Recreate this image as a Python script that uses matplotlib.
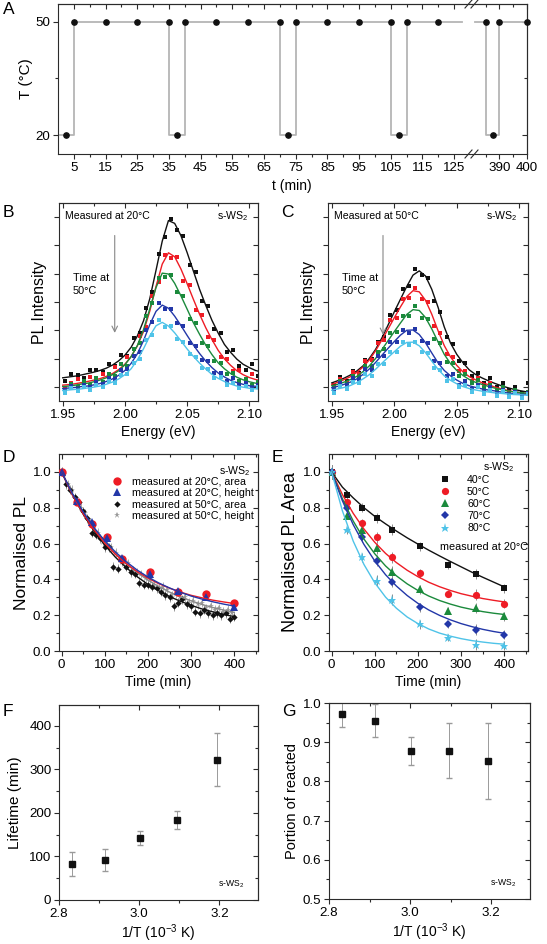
import matplotlib
matplotlib.use('Agg')
import matplotlib.pyplot as plt
from matplotlib.lines import Line2D
from matplotlib.ticker import FormatStrFormatter

plt.rcParams['font.family'] = ['Liberation Sans', 'DejaVu Sans']
plt.rcParams['mathtext.fontset'] = 'custom'
plt.rcParams['mathtext.rm'] = 'Liberation Sans'
plt.rcParams['mathtext.it'] = 'Liberation Sans:italic'
plt.rcParams['axes.linewidth'] = 0.8

# ---------------- data ----------------
# A: temperature programme
prof_t1 = [0.5, 5, 5, 35, 35, 40, 40, 70, 70, 75, 75, 105, 105, 110, 110, 127.5]
prof_T1 = [20, 20, 50, 50, 20, 20, 50, 50, 20, 20, 50, 50, 20, 20, 50, 50]
prof_t2 = [381, 385, 385, 390, 390, 400]
prof_T2 = [50, 50, 20, 20, 50, 50]
meas_t = [2.5, 5, 15, 25, 35, 37.5, 40, 50, 60, 70, 72.5, 75, 85, 95, 105, 107.5,
          110, 120, 385, 387.5, 390, 400]
meas_T = [20, 50, 50, 50, 50, 20, 50, 50, 50, 50, 20, 50, 50, 50, 50, 20,
          50, 50, 50, 20, 50, 50]
a_ticks1 = [5, 15, 25, 35, 45, 55, 65, 75, 85, 95, 105, 115, 125]
a_ticks2 = [390, 400]

# B, C: PL spectra
E_fit = [1.950, 1.955, 1.960, 1.965, 1.970, 1.975, 1.980, 1.985, 1.990, 1.995, 2.000,
         2.005, 2.010, 2.015, 2.020, 2.025, 2.030, 2.035, 2.040, 2.045, 2.050, 2.055,
         2.060, 2.065, 2.070, 2.075, 2.080, 2.085, 2.090, 2.095, 2.100, 2.105, 2.110]
E_pts = [1.952, 1.957, 1.962, 1.967, 1.972, 1.977, 1.982, 1.987, 1.992, 1.997, 2.002,
         2.007, 2.012, 2.017, 2.022, 2.027, 2.032, 2.037, 2.042, 2.047, 2.052, 2.057,
         2.062, 2.067, 2.072, 2.077, 2.082, 2.087, 2.092, 2.097, 2.102, 2.107]

b_fit_k = [0.82, 0.85, 0.88, 0.92, 0.97, 1.02, 1.08, 1.16, 1.27, 1.42, 1.62,
           1.90, 2.30, 2.84, 3.62, 4.62, 5.65, 6.38, 6.28, 5.85, 5.25, 4.60,
           3.95, 3.38, 2.85, 2.40, 2.00, 1.72, 1.48, 1.30, 1.18, 1.08, 1.02]
b_fit_r = [0.56, 0.58, 0.61, 0.65, 0.69, 0.74, 0.79, 0.87, 0.97, 1.11, 1.30,
           1.57, 1.95, 2.46, 3.18, 4.05, 4.84, 5.24, 5.10, 4.67, 4.15, 3.60,
           3.07, 2.59, 2.17, 1.79, 1.49, 1.26, 1.07, 0.93, 0.83, 0.76, 0.71]
b_fit_g = [0.51, 0.53, 0.56, 0.60, 0.63, 0.68, 0.74, 0.82, 0.93, 1.07, 1.28,
           1.57, 1.96, 2.53, 3.26, 4.01, 4.52, 4.49, 4.16, 3.72, 3.25, 2.77,
           2.36, 1.97, 1.64, 1.35, 1.14, 0.97, 0.84, 0.75, 0.68, 0.63, 0.60]
b_fit_b = [0.44, 0.46, 0.48, 0.51, 0.53, 0.57, 0.62, 0.69, 0.78, 0.91, 1.08,
           1.33, 1.67, 2.14, 2.70, 3.17, 3.39, 3.28, 3.00, 2.67, 2.32, 1.98,
           1.68, 1.41, 1.18, 0.99, 0.85, 0.73, 0.65, 0.59, 0.54, 0.52, 0.50]
b_fit_c = [0.37, 0.39, 0.41, 0.43, 0.46, 0.49, 0.53, 0.59, 0.67, 0.78, 0.93,
           1.14, 1.45, 1.85, 2.30, 2.66, 2.78, 2.65, 2.41, 2.13, 1.84, 1.58,
           1.34, 1.13, 0.94, 0.80, 0.69, 0.60, 0.53, 0.49, 0.45, 0.43, 0.41]
b_pts_k = [0.72, 0.95, 0.92, 0.83, 1.08, 1.10, 1.02, 1.31, 1.22, 1.63, 1.60, 2.21, 2.40, 3.30, 3.85, 5.20,
           5.80, 6.45, 6.05, 5.85, 4.80, 4.55, 3.55, 3.35, 2.55, 2.40, 1.75, 1.80, 1.25, 1.10, 1.30, 0.90]
b_pts_r = [0.45, 0.62, 0.78, 0.55, 0.85, 0.70, 0.95, 0.80, 1.20, 1.10, 1.55, 1.60, 2.30, 2.60, 3.70, 4.20,
           5.15, 5.05, 5.10, 4.25, 4.10, 3.20, 3.05, 2.25, 2.15, 1.55, 1.50, 1.05, 1.10, 0.75, 0.95, 0.60]
b_pts_g = [0.40, 0.60, 0.48, 0.70, 0.55, 0.80, 0.68, 0.95, 0.90, 1.30, 1.25, 1.85, 2.05, 3.00, 3.45, 4.35,
           4.40, 4.45, 3.85, 3.70, 2.90, 2.75, 2.05, 1.95, 1.40, 1.35, 0.95, 1.00, 0.70, 0.78, 0.55, 0.68]
b_pts_b = [0.35, 0.52, 0.40, 0.58, 0.48, 0.66, 0.60, 0.80, 0.78, 1.08, 1.12, 1.60, 1.75, 2.50, 2.80, 3.45,
           3.25, 3.25, 2.75, 2.65, 2.05, 1.95, 1.45, 1.40, 1.00, 0.98, 0.72, 0.82, 0.55, 0.62, 0.45, 0.58]
b_pts_c = [0.30, 0.45, 0.35, 0.50, 0.40, 0.58, 0.50, 0.70, 0.65, 0.92, 0.95, 1.35, 1.50, 2.15, 2.35, 2.85,
           2.60, 2.65, 2.20, 2.10, 1.65, 1.55, 1.15, 1.12, 0.80, 0.85, 0.58, 0.65, 0.45, 0.52, 0.38, 0.48]

c_fit_k = [0.64, 0.72, 0.81, 0.92, 1.06, 1.24, 1.50, 1.82, 2.22, 2.68, 3.15,
           3.60, 4.05, 4.45, 4.60, 4.42, 3.95, 3.32, 2.62, 2.05, 1.65, 1.35,
           1.10, 0.94, 0.82, 0.72, 0.63, 0.55, 0.48, 0.42, 0.37, 0.33, 0.30]
c_fit_r = [0.59, 0.66, 0.76, 0.86, 1.01, 1.20, 1.45, 1.77, 2.15, 2.54, 2.94,
           3.33, 3.69, 3.90, 3.86, 3.56, 3.07, 2.49, 1.96, 1.56, 1.26, 1.03,
           0.86, 0.75, 0.65, 0.58, 0.50, 0.44, 0.38, 0.33, 0.30, 0.27, 0.25]
c_fit_g = [0.54, 0.59, 0.67, 0.76, 0.87, 1.04, 1.24, 1.50, 1.81, 2.13, 2.45,
           2.76, 3.06, 3.23, 3.20, 2.95, 2.55, 2.09, 1.65, 1.32, 1.08, 0.90,
           0.76, 0.66, 0.59, 0.52, 0.46, 0.41, 0.36, 0.33, 0.30, 0.28, 0.26]
c_fit_b = [0.47, 0.52, 0.59, 0.67, 0.78, 0.94, 1.13, 1.36, 1.61, 1.86, 2.10,
           2.33, 2.50, 2.51, 2.35, 2.06, 1.70, 1.35, 1.08, 0.89, 0.74, 0.62,
           0.54, 0.48, 0.43, 0.39, 0.36, 0.32, 0.29, 0.26, 0.24, 0.23, 0.22]
c_fit_c = [0.38, 0.43, 0.48, 0.55, 0.65, 0.78, 0.93, 1.12, 1.33, 1.54, 1.74,
           1.94, 2.07, 2.08, 1.95, 1.71, 1.41, 1.12, 0.89, 0.73, 0.61, 0.51,
           0.44, 0.39, 0.35, 0.32, 0.29, 0.27, 0.25, 0.23, 0.22, 0.21, 0.20]
c_pts_k = [0.55, 0.85, 0.70, 1.05, 1.00, 1.45, 1.50, 2.10, 2.25, 3.05, 3.20, 3.95, 4.05, 4.65, 4.45, 4.35,
           3.55, 3.15, 2.25, 2.00, 1.40, 1.35, 0.90, 0.98, 0.65, 0.80, 0.50, 0.62, 0.38, 0.50, 0.28, 0.63]
c_pts_r = [0.50, 0.78, 0.65, 1.02, 0.95, 1.42, 1.45, 2.05, 2.15, 2.85, 2.95, 3.60, 3.65, 4.00, 3.60, 3.50,
           2.65, 2.40, 1.65, 1.55, 1.05, 1.05, 0.70, 0.80, 0.50, 0.62, 0.40, 0.50, 0.28, 0.40, 0.20, 0.32]
c_pts_g = [0.45, 0.70, 0.60, 0.90, 0.85, 1.25, 1.25, 1.75, 1.85, 2.40, 2.45, 3.00, 3.00, 3.35, 2.95, 2.90,
           2.20, 2.05, 1.38, 1.35, 0.88, 0.95, 0.62, 0.75, 0.45, 0.58, 0.35, 0.48, 0.25, 0.40, 0.20, 0.33]
c_pts_b = [0.40, 0.62, 0.52, 0.80, 0.75, 1.12, 1.10, 1.58, 1.60, 2.08, 2.10, 2.52, 2.42, 2.55, 2.12, 2.05,
           1.42, 1.35, 0.88, 0.95, 0.58, 0.70, 0.42, 0.58, 0.32, 0.48, 0.26, 0.40, 0.18, 0.32, 0.15, 0.28]
c_pts_c = [0.30, 0.52, 0.42, 0.68, 0.62, 0.95, 0.90, 1.30, 1.32, 1.75, 1.72, 2.10, 1.98, 2.10, 1.72, 1.68,
           1.15, 1.10, 0.72, 0.78, 0.48, 0.58, 0.32, 0.48, 0.25, 0.40, 0.18, 0.35, 0.14, 0.30, 0.12, 0.26]

# D: normalised PL vs time
t_20 = [0, 35, 70, 105, 140, 205, 270, 335, 400]
d_area20 = [1.0, 0.83, 0.71, 0.635, 0.515, 0.44, 0.33, 0.32, 0.27]
d_height20 = [1.0, 0.84, 0.72, 0.63, 0.52, 0.43, 0.335, 0.30, 0.245]
t_50a = [0, 10, 20, 30, 40, 50, 60, 70, 80, 90, 100, 110, 120, 130, 140, 150, 160, 170, 180, 190,
         200, 210, 220, 230, 240, 250, 260, 270, 280, 290, 300, 310, 320, 330, 340, 350, 360, 370,
         380, 390, 400]
d_area50 = [1.0, 0.93, 0.90, 0.86, 0.83, 0.78, 0.74, 0.66, 0.65, 0.63, 0.58, 0.58, 0.47, 0.46,
            0.50, 0.47, 0.44, 0.43, 0.38, 0.37, 0.37, 0.36, 0.35, 0.33, 0.31, 0.30, 0.25, 0.27,
            0.29, 0.26, 0.25, 0.22, 0.21, 0.23, 0.21, 0.20, 0.21, 0.20, 0.21, 0.18, 0.19]
t_50h = [0, 5, 15, 25, 35, 45, 55, 65, 75, 85, 95, 105, 115, 125, 135, 145, 155, 165, 175, 185,
         195, 205, 215, 225, 235, 245, 255, 265, 275, 285, 295, 305, 315, 325, 335, 345, 355, 365,
         375, 385, 395]
d_height50 = [1.0, 0.99, 0.93, 0.90, 0.84, 0.80, 0.77, 0.72, 0.70, 0.66, 0.61, 0.60, 0.58, 0.55,
              0.51, 0.50, 0.49, 0.45, 0.44, 0.43, 0.41, 0.40, 0.37, 0.35, 0.36, 0.34, 0.31, 0.32,
              0.30, 0.30, 0.27, 0.28, 0.26, 0.27, 0.24, 0.25, 0.23, 0.24, 0.22, 0.23, 0.21]
err50 = 0.025
t_fit = [0, 25, 50, 75, 100, 125, 150, 175, 200, 225, 250, 275, 300, 325, 350, 375, 400]
fit_area20 = [1.0, 0.872, 0.766, 0.677, 0.602, 0.539, 0.487, 0.443, 0.407, 0.376, 0.351, 0.329,
              0.311, 0.297, 0.284, 0.274, 0.265]
fit_height20 = [1.0, 0.879, 0.777, 0.689, 0.615, 0.552, 0.498, 0.452, 0.413, 0.380, 0.352, 0.328,
                0.307, 0.290, 0.275, 0.262, 0.251]
fit_area50 = [1.0, 0.872, 0.764, 0.671, 0.591, 0.523, 0.465, 0.415, 0.372, 0.336, 0.304, 0.278,
              0.255, 0.235, 0.219, 0.204, 0.192]
fit_height50 = [1.0, 0.879, 0.775, 0.686, 0.609, 0.543, 0.486, 0.438, 0.396, 0.360, 0.329, 0.303,
                0.280, 0.260, 0.243, 0.229, 0.216]
d_labels = ['measured at 20°C, area', 'measured at 20°C, height',
            'measured at 50°C, area', 'measured at 50°C, height']

# E: PL area at several temperatures
temps = ['40°C', '50°C', '60°C', '70°C', '80°C']
e_40 = [1.0, 0.87, 0.80, 0.742, 0.678, 0.584, 0.48, 0.43, 0.35]
e_50 = [1.0, 0.83, 0.714, 0.635, 0.523, 0.433, 0.32, 0.315, 0.265]
e_60 = [1.0, 0.755, 0.678, 0.573, 0.443, 0.345, 0.225, 0.24, 0.195]
e_70 = [1.0, 0.80, 0.635, 0.505, 0.388, 0.243, 0.148, 0.12, 0.09]
e_80 = [1.0, 0.673, 0.523, 0.393, 0.286, 0.15, 0.075, 0.035, 0.03]
e_err = [0.04, 0.02, 0.025, 0.03, 0.03, 0.025, 0.02, 0.03, 0.025]
fit_40 = [1.0, 0.915, 0.855, 0.80, 0.752, 0.71, 0.67, 0.632, 0.597, 0.563, 0.531, 0.50, 0.47,
          0.44, 0.412, 0.385, 0.358]
fit_50 = [1.0, 0.874, 0.769, 0.681, 0.607, 0.545, 0.494, 0.451, 0.415, 0.384, 0.359, 0.338,
          0.320, 0.306, 0.293, 0.283, 0.274]
fit_60 = [1.0, 0.850, 0.726, 0.625, 0.543, 0.475, 0.420, 0.375, 0.338, 0.307, 0.282, 0.262,
          0.245, 0.232, 0.220, 0.211, 0.204]
fit_70 = [1.0, 0.839, 0.706, 0.595, 0.503, 0.426, 0.363, 0.310, 0.266, 0.229, 0.199, 0.174,
          0.153, 0.136, 0.121, 0.109, 0.099]
fit_80 = [1.0, 0.783, 0.614, 0.483, 0.381, 0.301, 0.239, 0.190, 0.153, 0.123, 0.100, 0.083,
          0.069, 0.058, 0.050, 0.043, 0.038]

# F, G: Arrhenius-type summary
invT = [2.832, 2.914, 3.002, 3.095, 3.193]
lifetime = [82, 92, 142, 184, 322]
lifetime_err = [28, 26, 16, 20, 61]
portion = [0.972, 0.955, 0.878, 0.878, 0.851]
portion_err = [0.033, 0.043, 0.035, 0.07, 0.097]

# ---------------- styling ----------------
RED, GREEN, BLUE, CYAN = '#ee1c25', '#1b8a3c', '#2337a8', '#4fc3e8'
GREY = '#9a9a9a'
SPINE = '#2b2b2b'
TICK = 9.6
XLAB = 10

W, H = 547, 944
fig = plt.figure(figsize=(W / 100, H / 100), dpi=100)


def box(l, t, r, b):
    return fig.add_axes([l / W, 1 - b / H, (r - l) / W, (b - t) / H])


def frame(ax, xt, xm, yt, ym, xlim, ylim, ylabels=True):
    ax.set_xticks(xt)
    ax.set_xticks(xm, minor=True)
    ax.set_yticks(yt)
    ax.set_yticks(ym, minor=True)
    ax.set_xlim(*xlim)
    ax.set_ylim(*ylim)
    ax.tick_params(which='both', direction='out', width=0.8, color=SPINE,
                   labelsize=TICK, pad=2, labelleft=ylabels)
    ax.tick_params(which='major', length=3.5)
    ax.tick_params(which='minor', length=2)
    for s in ax.spines.values():
        s.set_color(SPINE)
    top = ax.secondary_xaxis('top')
    top.set_xticks(xt)
    top.set_xticks(xm, minor=True)
    top.tick_params(which='both', direction='in', labeltop=False, width=0.8, color=SPINE)
    top.tick_params(which='major', length=3.5)
    top.tick_params(which='minor', length=2)
    right = ax.secondary_yaxis('right')
    right.set_yticks(yt)
    right.set_yticks(ym, minor=True)
    right.tick_params(which='both', direction='in', labelright=False, width=0.8, color=SPINE)
    right.tick_params(which='major', length=3.5)
    right.tick_params(which='minor', length=2)
    for sec in (top, right):
        for s in sec.spines.values():
            s.set_color(SPINE)


def letter(x, y, s):
    fig.text(x / W, 1 - y / H, s, fontsize=12.5, ha='left', va='center')


# ---------------- A ----------------
axA1 = box(58, 4, 470, 154)
axA2 = box(470, 4, 527, 154)
for ax, pt, pT, xlim, maj, mnr in [
        (axA1, prof_t1, prof_T1, (0, 130), a_ticks1,
         [10, 20, 30, 40, 50, 60, 70, 80, 90, 100, 110, 120]),
        (axA2, prof_t2, prof_T2, (379.3, 400), a_ticks2, [385, 395])]:
    ax.plot(pt, pT, color='#b5b5b5', lw=1.3, zorder=1)
    ax.plot(meas_t, meas_T, 'o', color='#111111', ms=3.8, zorder=3, clip_on=False)
    ax.set_xlim(*xlim)
    ax.set_ylim(15, 54.7)
    ax.set_xticks(maj)
    ax.set_xticks(mnr, minor=True)
    ax.set_yticks([20, 50])
    ax.set_yticks([35], minor=True)
    ax.tick_params(which='both', direction='out', width=0.8, color=SPINE,
                   labelsize=TICK, pad=2)
    ax.tick_params(which='major', length=3.5)
    ax.tick_params(which='minor', length=2)
    for s in ax.spines.values():
        s.set_color(SPINE)
    top = ax.secondary_xaxis('top')
    top.set_xticks(maj)
    top.set_xticks(mnr, minor=True)
    top.tick_params(which='both', direction='in', labeltop=False, width=0.8, color=SPINE)
    top.tick_params(which='major', length=3.5)
    top.tick_params(which='minor', length=2)
    for s in top.spines.values():
        s.set_color(SPINE)
axA1.spines['right'].set_visible(False)
axA2.spines['left'].set_visible(False)
axA2.tick_params(axis='y', which='both', left=False, labelleft=False)
rA = axA2.secondary_yaxis('right')
rA.set_yticks([20, 50])
rA.set_yticks([35], minor=True)
rA.tick_params(which='both', direction='in', labelright=False, width=0.8, color=SPINE)
rA.tick_params(which='major', length=3.5)
rA.tick_params(which='minor', length=2)
rA.spines['right'].set_color(SPINE)
axA1.set_ylabel('T (°C)', fontsize=11, labelpad=2)
fig.text(292 / W, 1 - 186 / H, 't (min)', fontsize=XLAB, ha='center', va='center')
for yb in (4, 154):
    for xb in (465, 471):
        fig.add_artist(Line2D([xb / W, (xb + 7) / W], [1 - (yb + 4) / H, 1 - (yb - 4) / H],
                              color=SPINE, lw=0.8))
letter(3, 10, 'A')

# ---------------- B, C ----------------
def spectra(ax, fits, pts, title):
    cols = ['#111111', RED, GREEN, BLUE, CYAN]
    for f, p, c in zip(fits, pts, cols):
        ax.plot(E_pts, p, 's', color=c, ms=2.2, mew=0)
        ax.plot(E_fit, f, '-', color=c, lw=1.0)
    frame(ax, [1.95, 2.00, 2.05, 2.10], [1.975, 2.025, 2.075],
          [0.5, 1.5, 2.5, 3.5, 4.5, 5.5, 6.5], [], (1.947, 2.107), (0, 7), ylabels=False)
    ax.xaxis.set_major_formatter(FormatStrFormatter('%.2f'))
    ax.set_xlabel('Energy (eV)', fontsize=XLAB, labelpad=3)
    ax.set_ylabel('PL Intensity', fontsize=11.5, labelpad=5)
    ax.text(0.03, 0.935, title, transform=ax.transAxes, fontsize=7.6, va='center')
    ax.text(0.95, 0.935, 's-WS$_2$', transform=ax.transAxes, fontsize=7.6, va='center', ha='right')
    ax.text(0.07, 0.59, 'Time at\n50°C', transform=ax.transAxes, fontsize=7.8, va='center',
            linespacing=1.35)


axB = box(59, 203, 258, 401)
spectra(axB, [b_fit_k, b_fit_r, b_fit_g, b_fit_b, b_fit_c],
        [b_pts_k, b_pts_r, b_pts_g, b_pts_b, b_pts_c], 'Measured at 20°C')
axB.annotate('', xy=(0.28, 0.33), xytext=(0.28, 0.85), xycoords='axes fraction',
             arrowprops=dict(arrowstyle='->', color='#888888', lw=0.8))
letter(3, 212, 'B')

axC = box(328, 203, 528, 401)
spectra(axC, [c_fit_k, c_fit_r, c_fit_g, c_fit_b, c_fit_c],
        [c_pts_k, c_pts_r, c_pts_g, c_pts_b, c_pts_c], 'Measured at 50°C')
axC.annotate('', xy=(0.275, 0.32), xytext=(0.275, 0.85), xycoords='axes fraction',
             arrowprops=dict(arrowstyle='->', color='#888888', lw=0.8))
letter(281, 212, 'C')

# ---------------- D ----------------
axD = box(59, 454, 258, 651)
axD.errorbar(t_50h, d_height50, yerr=err50, fmt='*', color=GREY, ms=5, mew=0,
             ecolor='#b0b0b0', elinewidth=0.7, capsize=1.5, zorder=2)
axD.errorbar(t_50a, d_area50, yerr=err50, fmt='D', color='#111111', ms=3.2, mew=0,
             ecolor='#9a9a9a', elinewidth=0.7, capsize=1.5, zorder=3)
axD.plot(t_fit, fit_height50, color='#8a8a8a', lw=1.0, zorder=4)
axD.plot(t_fit, fit_area50, color='#111111', lw=1.0, zorder=4)
axD.plot(t_20, d_area20, 'o', color=RED, ms=6, mew=0, zorder=5)
axD.plot(t_20, d_height20, '^', color=BLUE, ms=6, mew=0, zorder=5)
axD.plot(t_fit, fit_area20, color=RED, lw=1.0, zorder=6)
axD.plot(t_fit, fit_height20, color=BLUE, lw=1.0, zorder=6)
frame(axD, [0, 100, 200, 300, 400], [50, 150, 250, 350, 450],
      [0.0, 0.2, 0.4, 0.6, 0.8, 1.0], [0.1, 0.3, 0.5, 0.7, 0.9], (-6, 455), (0, 1.1))
axD.yaxis.set_major_formatter(FormatStrFormatter('%.1f'))
axD.set_xlabel('Time (min)', fontsize=XLAB, labelpad=3)
axD.set_ylabel('Normalised PL', fontsize=12.5, labelpad=3)
axD.text(0.96, 0.915, 's-WS$_2$', transform=axD.transAxes, fontsize=7.6, ha='right', va='center')
hD = [Line2D([], [], marker='o', color=RED, ls='none', ms=6, mew=0),
      Line2D([], [], marker='^', color=BLUE, ls='none', ms=6, mew=0),
      Line2D([], [], marker='D', color='#111111', ls='none', ms=3.2, mew=0),
      Line2D([], [], marker='*', color=GREY, ls='none', ms=5, mew=0)]
axD.legend(hD, d_labels, loc='upper left', bbox_to_anchor=(0.255, 0.895), frameon=False,
           fontsize=7.7, handlelength=1.0, handletextpad=0.9, labelspacing=0.12,
           borderaxespad=0.0, borderpad=0.2)
letter(3, 458, 'D')

# ---------------- E ----------------
axE = box(329, 454, 528, 651)
series = [(e_40, fit_40, '#111111', 's', 4.2), (e_50, fit_50, RED, 'o', 5.2),
          (e_60, fit_60, GREEN, '^', 5.2), (e_70, fit_70, BLUE, 'D', 4.2),
          (e_80, fit_80, CYAN, '*', 6.5)]
hE = []
for vals, fit, c, m, ms in series:
    axE.errorbar(t_20, vals, yerr=e_err, fmt=m, color=c, ms=ms, mew=0,
                 ecolor='#8c8c8c', elinewidth=0.7, capsize=1.8, zorder=3)
    axE.plot(t_fit, fit, color=c, lw=1.0, zorder=4)
    hE.append(Line2D([], [], marker=m, color=c, ls='none', ms=ms, mew=0))
frame(axE, [0, 100, 200, 300, 400], [50, 150, 250, 350, 450],
      [0.0, 0.2, 0.4, 0.6, 0.8, 1.0], [0.1, 0.3, 0.5, 0.7, 0.9], (-6, 455), (0, 1.1))
axE.yaxis.set_major_formatter(FormatStrFormatter('%.1f'))
axE.set_xlabel('Time (min)', fontsize=XLAB, labelpad=3)
axE.set_ylabel('Normalised PL Area', fontsize=13, labelpad=3)
axE.text(0.93, 0.935, 's-WS$_2$', transform=axE.transAxes, fontsize=7.6, ha='right', va='center')
axE.legend(hE, temps, loc='upper left', bbox_to_anchor=(0.545, 0.905), frameon=False,
           fontsize=7.6, handlelength=1.0, handletextpad=1.6, labelspacing=0.2,
           borderaxespad=0.0, borderpad=0.2)
axE.text(0.998, 0.53, 'measured at 20°C', transform=axE.transAxes, fontsize=7.8,
         ha='right', va='center')
letter(272, 458, 'E')

# ---------------- F, G ----------------
axF = box(59, 705, 258, 900)
axF.errorbar(invT, lifetime, yerr=lifetime_err, fmt='s', color='#111111', ms=4.8,
             ecolor='#9a9a9a', elinewidth=0.7, capsize=2)
frame(axF, [2.8, 3.0, 3.2], [2.9, 3.1, 3.3], [0, 100, 200, 300, 400],
      [50, 150, 250, 350], (2.8, 3.296), (0, 448))
axF.xaxis.set_major_formatter(FormatStrFormatter('%.1f'))
axF.set_xlabel('1/T (10$^{-3}$ K)', fontsize=XLAB, labelpad=2)
axF.set_ylabel('Lifetime (min)', fontsize=11, labelpad=5)
axF.text(0.93, 0.08, 's-WS$_2$', transform=axF.transAxes, fontsize=6.2, ha='right', va='center')
letter(3, 712, 'F')

axG = box(329, 703, 530, 899)
axG.errorbar(invT, portion, yerr=portion_err, fmt='s', color='#111111', ms=4.8,
             ecolor='#9a9a9a', elinewidth=0.7, capsize=2)
frame(axG, [2.8, 3.0, 3.2], [2.9, 3.1, 3.3], [0.5, 0.6, 0.7, 0.8, 0.9, 1.0],
      [0.55, 0.65, 0.75, 0.85, 0.95], (2.8, 3.296), (0.5, 1.0))
axG.xaxis.set_major_formatter(FormatStrFormatter('%.1f'))
axG.yaxis.set_major_formatter(FormatStrFormatter('%.1f'))
axG.set_xlabel('1/T (10$^{-3}$ K)', fontsize=XLAB, labelpad=2)
axG.set_ylabel('Portion of reacted', fontsize=10.5, labelpad=3)
axG.text(0.93, 0.08, 's-WS$_2$', transform=axG.transAxes, fontsize=6.2, ha='right', va='center')
letter(282, 712, 'G')

fig.savefig('out.png', dpi=100)
